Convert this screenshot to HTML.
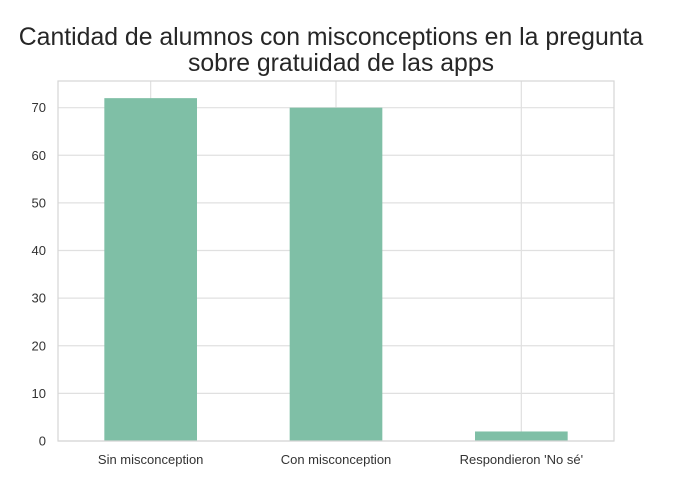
<!DOCTYPE html>
<html><head><meta charset="utf-8"><style>
body{margin:0;background:#fff;}
svg text{font-family:"Liberation Sans",sans-serif;}
</style></head><body>
<svg id="chart" width="698" height="494" xmlns="http://www.w3.org/2000/svg">
<text x="331" y="45" text-anchor="middle" font-size="24.8" fill="#262626">Cantidad de alumnos con misconceptions en la pregunta</text>
<text x="341" y="71" text-anchor="middle" font-size="24.8" fill="#262626">sobre gratuidad de las apps</text>
<g id="grid"></g><g id="bars"></g><g id="labels"></g>
<rect x="58" y="81" width="556" height="360" fill="none" stroke="#d6d6d6" stroke-width="1.2"/>
</svg>
<script>
const categories=["Sin misconception","Con misconception","Respondieron 'No sé'"];
const values=[72,70,2];
const yTicks=[0,10,20,30,40,50,60,70];
const L=58,R=614,T=81,B=441,yMax=75.6;
const ns="http://www.w3.org/2000/svg";
const band=(R-L)/categories.length;
function x(i){return L+band*(i+0.5);}
function y(v){return B-(v/yMax)*(B-T);}
function mk(t,a,p){const e=document.createElementNS(ns,t);for(const k in a)e.setAttribute(k,a[k]);p.appendChild(e);return e;}
const g=document.getElementById('grid'),b=document.getElementById('bars'),lb=document.getElementById('labels');
yTicks.forEach(v=>{
 const l=mk('line',{x1:L,x2:R,y1:y(v),y2:y(v),stroke:'#e0e0e0','stroke-width':1.2},g);
 
 
 const t=mk('text',{x:L-12,y:y(v)+4.5,'text-anchor':'end','font-size':13,fill:'#333'},lb);
 t.textContent=v;
 
 
});
categories.forEach((c,i)=>{
 const l=mk('line',{x1:x(i),x2:x(i),y1:T,y2:B,stroke:'#e0e0e0','stroke-width':1.2},g);
 
 
 const w=band*0.5;
 const r=mk('rect',{x:x(i)-w/2,y:y(values[i]),width:w,height:B-y(values[i]),fill:'#7fbfa6'},b);
 
 
 const t=mk('text',{x:x(i),y:B+23,'text-anchor':'middle','font-size':13,fill:'#333'},lb);
 t.textContent=c;
 
 
});
</script>
</body></html>
